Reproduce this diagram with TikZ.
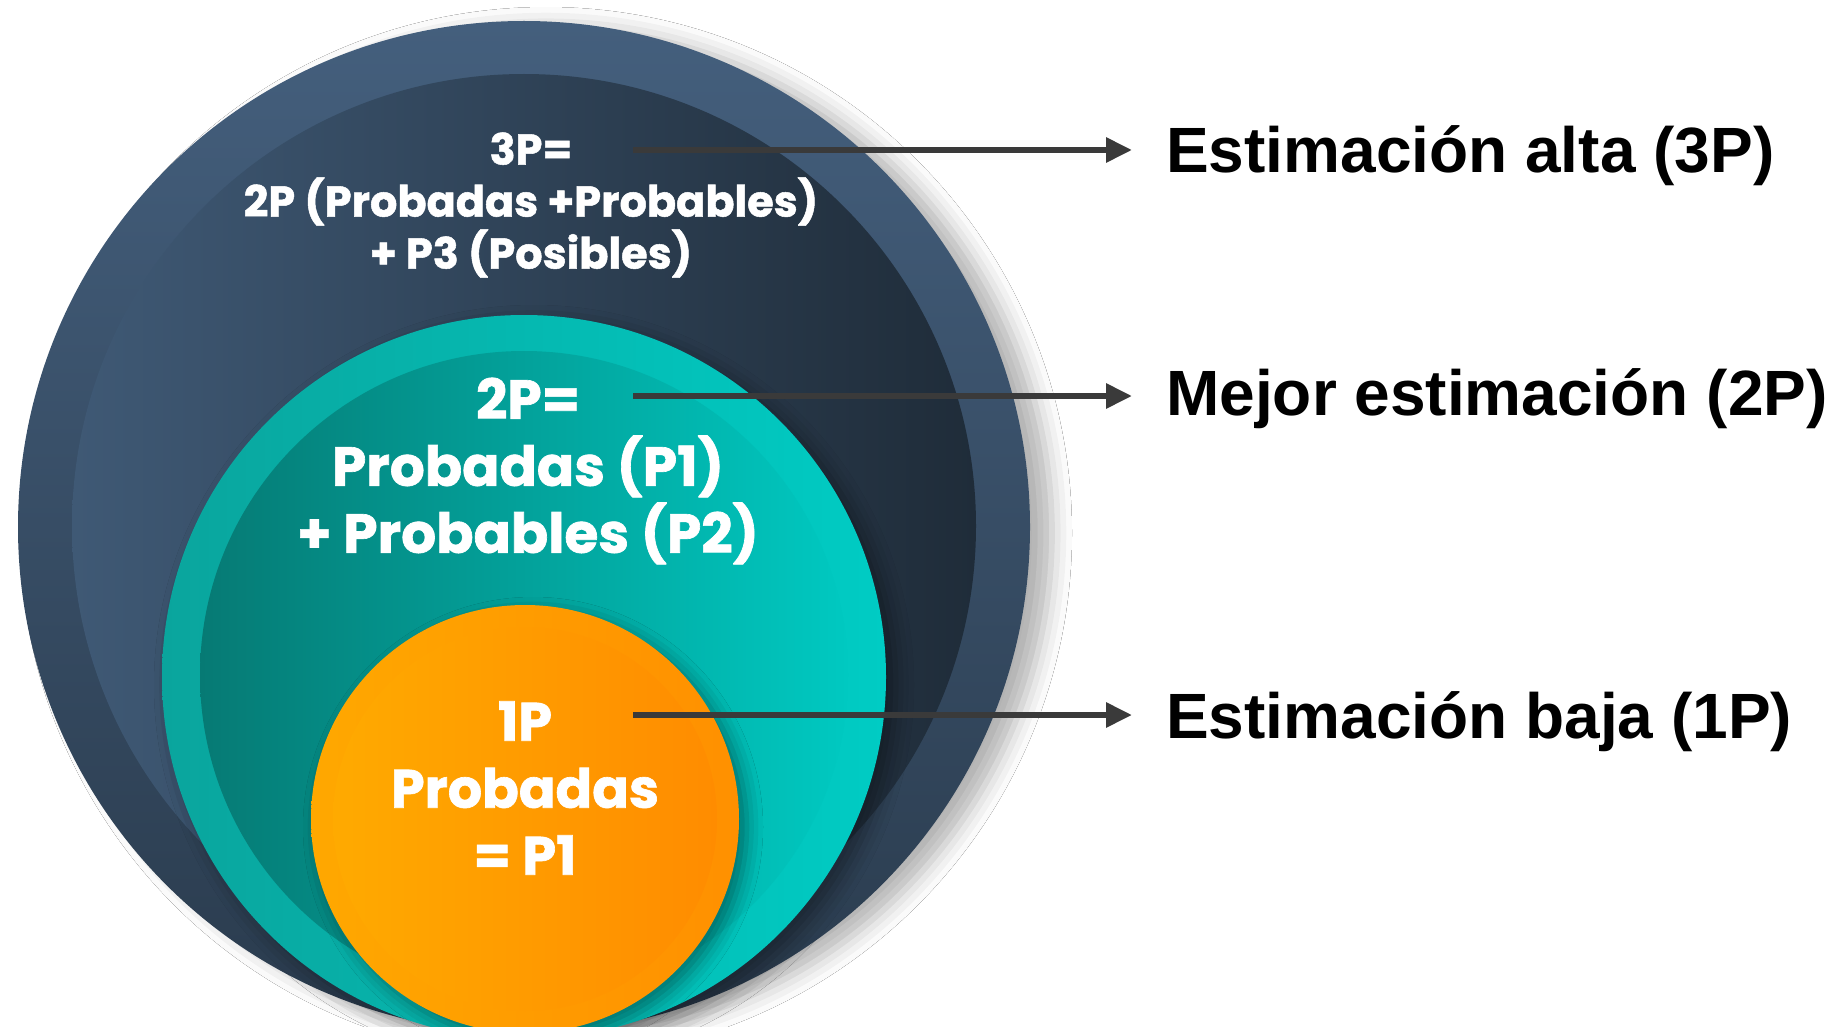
\documentclass[tikz,border=0pt]{standalone}
\usepackage{fontspec}
\setmainfont{Liberation Sans}
\newfontfamily\popfont{Poppins}[BoldFeatures={FakeBold=1.2}]
\usetikzlibrary{shadows.blur,arrows.meta}
\definecolor{slateA}{HTML}{445F7D}
\definecolor{slateB}{HTML}{2A3B4D}
\definecolor{darkA}{HTML}{3F5975}
\definecolor{darkB}{HTML}{1F2C39}
\definecolor{tealA}{HTML}{0AA59D}
\definecolor{tealB}{HTML}{00CCC4}
\definecolor{tealC}{HTML}{067A74}
\definecolor{tealD}{HTML}{00C9C1}
\definecolor{orA}{HTML}{FFA800}
\definecolor{orB}{HTML}{FF9000}
\definecolor{orC}{HTML}{FFAA00}
\definecolor{orD}{HTML}{FF8C00}
\definecolor{arrowgrey}{HTML}{3A3A3A}
\tikzset{
  ctext/.style={text=white, align=center, inner sep=0pt},
  rlabel/.style={anchor=west, inner sep=0pt, text=black, font=\bfseries\fontsize{64}{70}\selectfont},
  pointer/.style={draw=arrowgrey, line width=6pt, -{Triangle[length=26pt,width=24pt]}, shorten >=34pt},
}
\begin{document}
\begin{tikzpicture}[x=1pt,y=-1pt]
\useasboundingbox (0,0) rectangle (1839,1027);
\clip (0,0) rectangle (1839,1027);
\fill[white] (0,0) rectangle (1839,1027);
% outer circle
\path[blur shadow={shadow xshift=22pt,shadow yshift=-6pt,shadow blur radius=20pt,shadow opacity=30},
      top color=slateA, bottom color=slateB] (524,527) circle (506);
\path[left color=darkA, right color=darkB] (524,526) circle (452);
% teal circle
\path[blur shadow={shadow xshift=10pt,shadow yshift=-8pt,shadow blur radius=18pt,shadow opacity=40},
      left color=tealA, right color=tealB] (524,677) circle (362);
\path[left color=tealC, right color=tealD] (524,675) circle (324);
% orange circle
\path[blur shadow={shadow xshift=8pt,shadow yshift=-8pt,shadow blur radius=16pt,shadow opacity=40},
      left color=orA, right color=orB] (525,819) circle (214);
\path[left color=orC, right color=orD] (525,819) circle (192);
% texts in circles
\node[ctext, font=\popfont\bfseries\fontsize{43}{52}\selectfont] (t3) at (531,205)
  {3P=\\2P (Probadas +Probables)\\+ P3 (Posibles)};
\node[ctext, font=\popfont\bfseries\fontsize{55}{67}\selectfont] (t2) at (528,471)
  {2P=\\Probadas (P1)\\+ Probables (P2)};
\node[ctext, font=\popfont\bfseries\fontsize{54}{67}\selectfont] (t1) at (525,788)
  {1P\\Probadas\\= P1};
% right labels
\node[rlabel] (l3) at (1166,156) {Estimación alta (3P)};
\node[rlabel] (l2) at (1166,399) {Mejor estimación (2P)};
\node[rlabel] (l1) at (1166,722) {Estimación baja (1P)};
% arrow starts
\coordinate (s3) at (633,150);
\coordinate (s2) at (633,396);
\coordinate (s1) at (633,715);
\draw[pointer] (s3) -- (s3 -| l3.west);
\draw[pointer] (s2) -- (s2 -| l2.west);
\draw[pointer] (s1) -- (s1 -| l1.west);
\end{tikzpicture}
\end{document}
